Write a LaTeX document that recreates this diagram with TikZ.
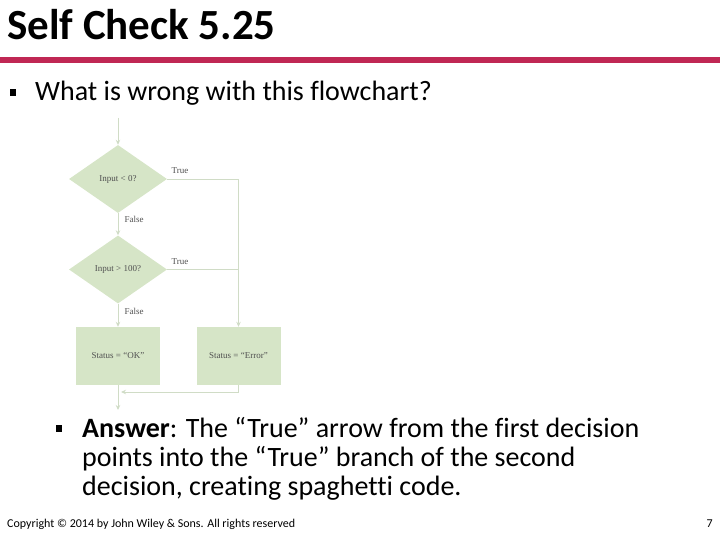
\documentclass[tikz,border=0pt]{standalone}
\usepackage{fontspec}
\setmainfont{Carlito}[Ligatures=NoCommon]
\newfontfamily\fcfont{Liberation Serif}
\usetikzlibrary{shapes.geometric,arrows.meta}
\definecolor{crim}{RGB}{192,40,84}
\definecolor{dfill}{RGB}{214,229,199}
\definecolor{fline}{RGB}{208,220,198}
\definecolor{ftext}{RGB}{80,80,80}
\tikzset{
  dec/.style={diamond,fill=dfill,minimum width=98pt,minimum height=68pt,inner sep=0pt,font=\fcfont\fontsize{9}{10}\selectfont,text=ftext},
  stbox/.style={rectangle,fill=dfill,minimum width=84pt,minimum height=58pt,inner sep=0pt,font=\fcfont\fontsize{9}{10}\selectfont,text=ftext},
  conn/.style={draw=fline,line width=0.9pt},
  arr/.style={conn,-{Stealth[length=5pt,width=4.5pt]}},
  lbl/.style={font=\fcfont\fontsize{9}{10}\selectfont,text=ftext,inner sep=0pt},
  body/.style={font=\fontsize{28}{31}\selectfont,anchor=base west,inner sep=0pt},
}
\begin{document}
\begin{tikzpicture}[x=1pt,y=-1pt]
\useasboundingbox (0,0) rectangle (720,540);
\node[font=\bfseries\fontsize{43}{46}\selectfont,anchor=base west,inner sep=0pt] (title) at (7,40) {Self Check 5.25};
\fill[crim] (0,57) rectangle (720,63);
\fill[black] (10,89) rectangle (16,96);
\node[body] (q) at (35,101) {What is wrong with this flowchart?};
% flowchart
\coordinate (start) at (118,118);
\node[dec] (d1) at (118,179) {Input < 0?};
\node[dec] (d2) at (118,269.5) {Input > 100?};
\node[stbox] (ok) at (118,356) {Status = “OK”};
\node[stbox] (err) at (238.5,356) {Status = “Error”};
\coordinate (join) at (121,392);
\coordinate (end) at (118,410);
\draw[arr] (start) -- (d1.north);
\draw[arr] (d1.south) -- (d2.north);
\draw[arr] (d2.south) -- (ok.north);
\draw[arr] (d1.east) -| (err.north);
\draw[conn] (d2.east) -- (d2.east -| err.north);
\draw[arr] (ok.south) -- (end);
\draw[arr] (err.south) |- (join);
\node[lbl] (t1) at (180,171) {True};
\node[lbl] (f1) at (134,219) {False};
\node[lbl] (t2) at (180,262) {True};
\node[lbl] (f2) at (134,311) {False};
% answer
\fill[black] (56,425) rectangle (62,432);
\node[body] (a1) at (82,437) {\textbf{Answer}: The “True” arrow from the first decision};
\node[body] (a2) at (82,466) {points into the “True” branch of the second};
\node[body] (a3) at (82,495) {decision, creating spaghetti code.};
\node[font=\fontsize{12}{13}\selectfont,anchor=base west,inner sep=0pt] (copy) at (7,527) {Copyright © 2014 by John Wiley \& Sons. All rights reserved};
\node[font=\fontsize{12}{13}\selectfont,anchor=base east,inner sep=0pt] (pg) at (713,527) {7};
\end{tikzpicture}
\end{document}
